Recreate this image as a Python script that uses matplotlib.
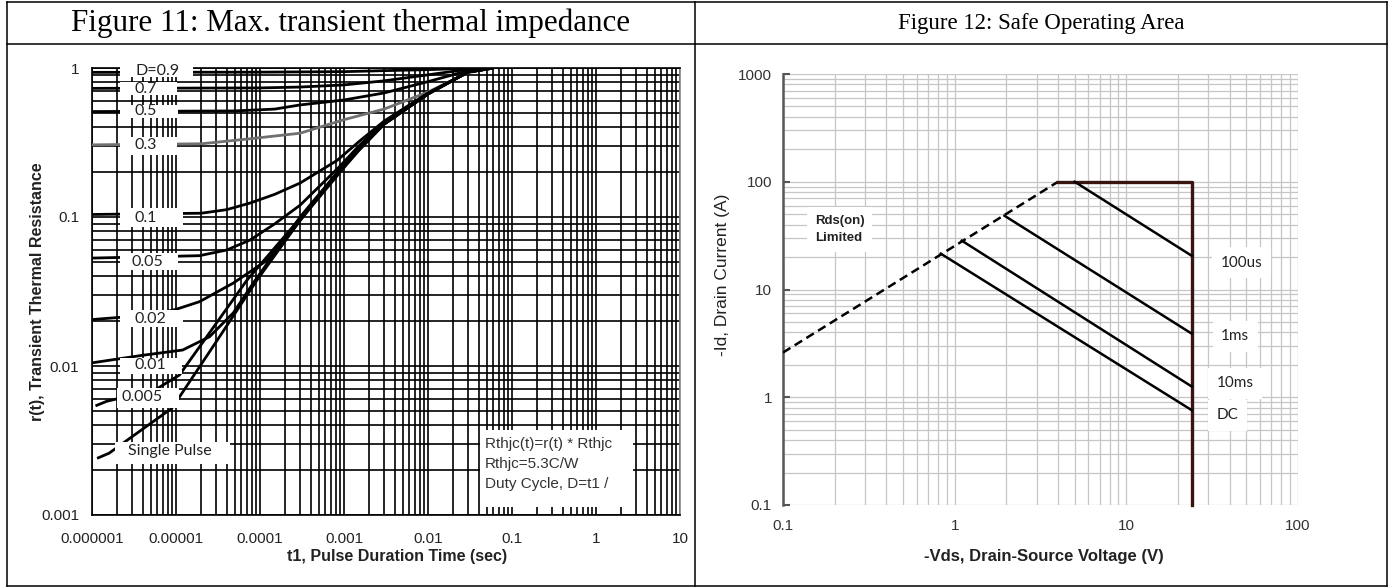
import matplotlib.pyplot as plt
import numpy as np
from matplotlib.lines import Line2D
from matplotlib.patches import Rectangle
from matplotlib.ticker import LogLocator, NullFormatter

plt.rcParams['font.family'] = 'Liberation Sans'

# ---- Figure 11: transient thermal impedance (t1 [s], r(t)) ----
t_d09 = [1e-6, 1e-4, 1e-3, 3e-3, 1e-2, 3e-2, 6e-2]
r_d09 = [0.935, 0.938, 0.945, 0.96, 0.975, 0.995, 1.0]
t_d07 = [1e-6, 1e-4, 3e-4, 1e-3, 3e-3, 1e-2, 3e-2, 6e-2]
r_d07 = [0.73, 0.735, 0.745, 0.77, 0.82, 0.9, 0.98, 1.0]
t_d05 = [1e-6, 5e-5, 1.5e-4, 3e-4, 1e-3, 3e-3, 1e-2, 3e-2, 6e-2]
r_d05 = [0.51, 0.515, 0.53, 0.565, 0.61, 0.68, 0.81, 0.96, 1.0]
t_d03 = [1e-6, 2e-5, 7.6e-5, 3e-4, 1e-3, 3e-3, 1e-2, 3e-2, 6e-2]
r_d03 = [0.305, 0.31, 0.335, 0.365, 0.45, 0.53, 0.69, 0.93, 1.0]
t_d01 = [1e-6, 2e-5, 4e-5, 7.6e-5, 1.5e-4, 3e-4, 8.3e-4, 1.5e-3, 3e-3, 1e-2, 3e-2, 6e-2]
r_d01 = [0.104, 0.106, 0.112, 0.124, 0.142, 0.169, 0.24, 0.32, 0.44, 0.68, 0.94, 1.0]
t_d005 = [1e-6, 1.9e-5, 4e-5, 7.6e-5, 1.5e-4, 3e-4, 9e-4, 1.5e-3, 3e-3, 1e-2, 3e-2, 6e-2]
r_d005 = [0.053, 0.055, 0.06, 0.07, 0.09, 0.12, 0.22, 0.30, 0.43, 0.67, 0.94, 1.0]
t_d002 = [1e-6, 5e-6, 1e-5, 1.9e-5, 4.8e-5, 1.2e-4, 2.3e-4, 9e-4, 1.5e-3, 3e-3, 1e-2, 3e-2, 6e-2]
r_d002 = [0.0205, 0.022, 0.024, 0.027, 0.036, 0.051, 0.078, 0.21, 0.29, 0.42, 0.67, 0.94, 1.0]
t_d001 = [1e-6, 4e-6, 1.2e-5, 2.5e-5, 4.8e-5, 8.3e-5, 3e-4, 9e-4, 1.5e-3, 3e-3, 1e-2, 3e-2, 6e-2]
r_d001 = [0.0105, 0.0118, 0.0128, 0.0157, 0.0227, 0.036, 0.10, 0.21, 0.285, 0.42, 0.67, 0.94, 1.0]
t_d0005 = [1.1e-6, 1.5e-6, 5.6e-6, 1.1e-5, 7e-5, 3e-4, 9e-4, 1.5e-3, 3e-3, 1e-2, 3e-2, 6e-2]
r_d0005 = [0.0054, 0.0058, 0.0069, 0.0087, 0.0377, 0.098, 0.205, 0.28, 0.42, 0.67, 0.94, 1.0]
t_single = [1.15e-6, 1.6e-6, 3.1e-6, 8.9e-6, 1.1e-5, 3e-5, 9.2e-5, 3e-4, 9e-4, 1.5e-3, 3e-3, 1e-2,
            3e-2, 6e-2]
r_single = [0.0024, 0.0026, 0.0034, 0.0052, 0.0062, 0.0145, 0.0377, 0.095, 0.20, 0.28, 0.42, 0.67,
            0.94, 1.0]

curves = [
    (t_d09, r_d09, 'black'), (t_d07, r_d07, 'black'), (t_d05, r_d05, 'black'),
    (t_d03, r_d03, '#707070'), (t_d01, r_d01, 'black'), (t_d005, r_d005, 'black'),
    (t_d002, r_d002, 'black'), (t_d001, r_d001, 'black'), (t_d0005, r_d0005, 'black'),
    (t_single, r_single, 'black'),
]

# label text, text position, white box (t0, t1, r0, r1)
duty_labels = [
    ('D=0.9', 6.1e-6, 0.955, 2.15e-6, 1.59e-5, 0.87, 1.13),
    ('0.7', 4.4e-6, 0.72, 2.15e-6, 1.03e-5, 0.659, 0.805),
    ('0.5', 4.4e-6, 0.515, 2.15e-6, 1.05e-5, 0.462, 0.565),
    ('0.3', 4.4e-6, 0.304, 2.15e-6, 1.03e-5, 0.26, 0.344),
    ('0.1', 4.4e-6, 0.098, 2.15e-6, 1.21e-5, 0.0857, 0.115),
    ('0.05', 4.6e-6, 0.05, 2.15e-6, 1.05e-5, 0.0443, 0.0574),
    ('0.02', 4.9e-6, 0.0207, 2.15e-6, 1.21e-5, 0.0183, 0.0238),
    ('0.01', 4.9e-6, 0.0101, 2.15e-6, 1.18e-5, 0.0089, 0.0114),
    ('0.005', 3.9e-6, 0.0062, 2.0e-6, 1.1e-5, 0.0052, 0.0071),
    ('Single Pulse', 8.5e-6, 0.0027, 1.88e-6, 4.4e-5, 0.0022, 0.0031),
]

t_ticks = [1e-6, 1e-5, 1e-4, 1e-3, 1e-2, 1e-1, 1, 10]
t_ticklabels = ['0.000001', '0.00001', '0.0001', '0.001', '0.01', '0.1', '1', '10']
r_ticks = [0.001, 0.01, 0.1, 1]
r_ticklabels = ['0.001', '0.01', '0.1', '1']
note_lines = ['Rthjc(t)=r(t) * Rthjc', 'Rthjc=5.3C/W', 'Duty Cycle, D=t1 /']
note_r = [0.00298, 0.00219, 0.00162]

# ---- Figure 12: safe operating area (-Vds [V], -Id [A]) ----
rds_v = [0.1, 4.0]
rds_i = [2.6, 100]
limit_v = [4.0, 24, 24]
limit_i = [100, 100, 0.1]
soa_v = {'100us': [5.0, 24], '1ms': [1.95, 24], '10ms': [1.1, 24], 'DC': [0.83, 24]}
soa_i = {'100us': [100, 20.6], '1ms': [48.4, 3.9], '10ms': [28.4, 1.26], 'DC': [21.5, 0.76]}
soa_label_pos = {'100us': (47, 17.8), '1ms': (43, 3.67), '10ms': (43, 1.35), 'DC': (39, 0.68)}
v_ticks = [0.1, 1, 10, 100]
v_ticklabels = ['0.1', '1', '10', '100']
i_ticks = [0.1, 1, 10, 100, 1000]
i_ticklabels = ['0.1', '1', '10', '100', '1000']

W, H = 1393, 587
fig = plt.figure(figsize=(W / 100, H / 100), dpi=100)


def fx(px):
    return px / W


def fy(py):
    return 1 - py / H


# table frame
for x0, y0, x1, y1 in [(7, 2, 1387, 2), (7, 44, 1387, 44), (7, 586, 1387, 586),
                       (7, 2, 7, 586), (695, 2, 695, 586), (1387, 2, 1387, 586)]:
    fig.add_artist(Line2D([fx(x0), fx(x1)], [fy(y0), fy(y1)], color='black', lw=1.1))

fig.text(fx(351), fy(23), 'Figure 11: Max. transient thermal impedance', family='Liberation Serif',
         fontsize=22.3, ha='center', va='center')
fig.text(fx(1041), fy(23), 'Figure 12: Safe Operating Area', family='Liberation Serif',
         fontsize=16.5, ha='center', va='center')

# ---------------- left chart ----------------
ax1 = fig.add_axes([fx(92), fy(515), (680 - 92) / W, (515 - 68) / H])
ax1.set_xscale('log')
ax1.set_yscale('log')
ax1.set_xlim(1e-6, 10)
ax1.set_ylim(1e-3, 1)
ax1.set_xticks(t_ticks)
ax1.set_xticklabels(t_ticklabels)
ax1.set_yticks(r_ticks)
ax1.set_yticklabels(r_ticklabels)
ax1.xaxis.set_minor_locator(LogLocator(base=10, subs=np.arange(2, 10), numticks=30))
ax1.yaxis.set_minor_locator(LogLocator(base=10, subs=np.arange(2, 10), numticks=30))
ax1.xaxis.set_minor_formatter(NullFormatter())
ax1.yaxis.set_minor_formatter(NullFormatter())
ax1.grid(which='both', color='black', lw=1.2)
ax1.set_axisbelow(True)
ax1.tick_params(which='both', length=0, labelsize=11, colors='#222222')
ax1.tick_params(axis='x', pad=12)
ax1.tick_params(axis='y', pad=9)
for s in ax1.spines.values():
    s.set_color('black')
    s.set_linewidth(1.2)
ax1.spines['right'].set_color('#888888')

for t, r, c in curves:
    ax1.plot(t, r, color=c, lw=2, zorder=3, solid_capstyle='butt', solid_joinstyle='round')

for txt, tx, ty, b0, b1, c0, c1 in duty_labels:
    ax1.add_patch(Rectangle((b0, c0), b1 - b0, c1 - c0, facecolor='white', edgecolor='none',
                            zorder=4, clip_on=False))
    ax1.text(tx, ty, txt, family='Lato', fontsize=11.5, color='#222222', ha='center',
             va='center', zorder=5)

ax1.add_patch(Rectangle((0.0416, 0.00113), 2.76 - 0.0416, 0.00373 - 0.00113, facecolor='white',
                        edgecolor='none', zorder=4))
for line, ry in zip(note_lines, note_r):
    ax1.text(0.0478, ry, line, fontsize=11, color='#333333', ha='left', va='center', zorder=5)

fig.text(fx(397), fy(557), 't1, Pulse Duration Time (sec)', fontsize=11.5, weight='bold',
         ha='center', va='center', color='#222222')
fig.text(fx(38), fy(292), 'r(t), Transient Thermal Resistance', fontsize=11.5, weight='bold',
         ha='center', va='center', rotation=90, color='#222222')

# ---------------- right chart ----------------
ax2 = fig.add_axes([fx(783), fy(505), (1298 - 783) / W, (505 - 74) / H])
ax2.set_xscale('log')
ax2.set_yscale('log')
ax2.set_xlim(0.1, 100)
ax2.set_ylim(0.1, 1000)
ax2.set_xticks(v_ticks)
ax2.set_xticklabels(v_ticklabels)
ax2.set_yticks(i_ticks)
ax2.set_yticklabels(i_ticklabels)
ax2.xaxis.set_minor_locator(LogLocator(base=10, subs=np.arange(2, 10), numticks=30))
ax2.yaxis.set_minor_locator(LogLocator(base=10, subs=np.arange(2, 10), numticks=30))
ax2.xaxis.set_minor_formatter(NullFormatter())
ax2.yaxis.set_minor_formatter(NullFormatter())
ax2.grid(which='both', color='#c6c6c6', lw=0.9)
ax2.set_axisbelow(True)
for side in ['top', 'right', 'bottom']:
    ax2.spines[side].set_visible(False)
ax2.spines['left'].set_color('#555555')
ax2.spines['left'].set_linewidth(1.8)
ax2.tick_params(which='both', labelsize=11, colors='#333333')
ax2.tick_params(axis='x', which='both', length=0, pad=10)
ax2.tick_params(axis='y', which='major', direction='in', length=5, width=1.5, color='#555555', pad=8)
ax2.tick_params(axis='y', which='minor', length=0)

ax2.plot(rds_v, rds_i, color='black', lw=1.8, ls=(0, (3.5, 2)), zorder=3)
ax2.plot(limit_v, limit_i, color='#3a1410', lw=2.4, zorder=3, clip_on=False)
for key in soa_v:
    ax2.plot(soa_v[key], soa_i[key], color='black', lw=1.8, zorder=3)
    lx, ly = soa_label_pos[key]
    ax2.text(lx, ly, key, family='Lato', fontsize=11, color='#222222', ha='center', va='center',
             zorder=5, bbox=dict(boxstyle='square,pad=0.55', fc='white', ec='none'))

ax2.text(0.1535, 36, 'Rds(on)\nLimited', fontsize=9.5, weight='bold', color='#222222',
         ha='left', va='center', linespacing=1.5, zorder=5,
         bbox=dict(boxstyle='square,pad=0.6', fc='white', ec='none'))

fig.text(fx(1044), fy(557), '-Vds, Drain-Source Voltage (V)', fontsize=12, weight='bold',
         ha='center', va='center', color='#222222')
fig.text(fx(722), fy(275), '-Id, Drain Current (A)', fontsize=12.5, ha='center', va='center',
         rotation=90, color='#222222')

fig.savefig('out.png', dpi=100)
